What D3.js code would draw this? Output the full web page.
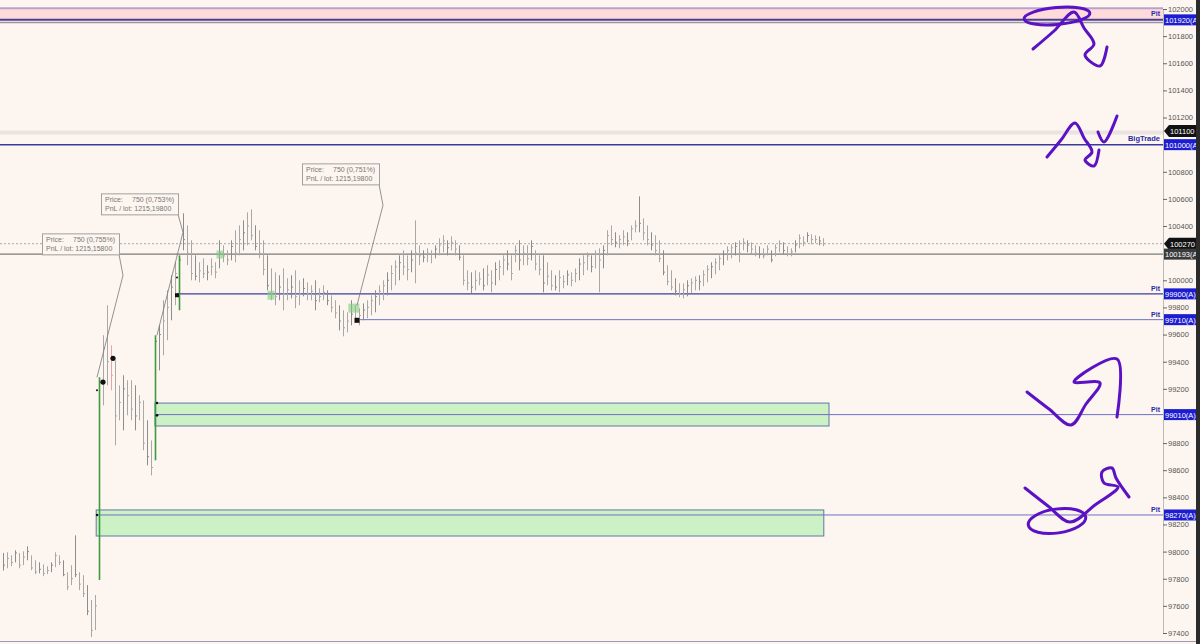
<!DOCTYPE html>
<html>
  <head>
    <title>Price chart</title>
  </head>
  <body>
    <svg id="svg" width="1200" height="644"></svg>

    <script src="https://cdn.jsdelivr.net/npm/d3@7"></script>
    <style>
      body,
      html {
        margin: 0;
        padding: 0;
        background: #fdf5ef;
      }
      #svg {
        display: block;
        font-family: "Liberation Sans", Arial, sans-serif;
      }
    </style>
    <script>
      // bar data (one bar per step)
      const barHigh = [
        97990, 97995, 97973, 98010, 97990, 98002, 98039, 97973, 97936, 97921,
        97906, 97892, 97921, 97995, 97973, 97936, 97848, 97900, 98120, 97848,
        97826, 97753, 97643, 97680, 99285, 99595, 99816, 99521, 99410, 99226,
        99300, 99263, 99263, 99226, 99152, 99115, 98968, 98820, 99595, 99668,
        99853, 99926, 100037, 100133, 100184, 100494, 100405, 100295, 100184, 100133,
        100162, 100111, 100162, 100133, 100295, 100258, 100221, 100295, 100369, 100405,
        100442, 100501, 100523, 100405, 100369, 100295, 100184, 100088, 100059, 100037,
        100088, 100015, 100037, 100074, 100000, 100015, 99985, 99963, 100000, 99941,
        99963, 99926, 99889, 99853, 99816, 99779, 99764, 99853, 99816, 99794,
        99830, 99853, 99889, 99926, 99963, 100000, 100059, 100111, 100147, 100184,
        100221, 100184, 100221, 100442, 100258, 100221, 100236, 100221, 100258, 100310,
        100332, 100295, 100324, 100295, 100258, 100184, 100074, 100059, 100074, 100059,
        100088, 100111, 100074, 100133, 100147, 100184, 100221, 100184, 100258, 100295,
        100258, 100258, 100295, 100221, 100184, 100184, 100133, 100074, 100037, 100074,
        100037, 100074, 100059, 100088, 100162, 100184, 100206, 100184, 100221, 100236,
        100258, 100369, 100405, 100354, 100332, 100369, 100354, 100405, 100442, 100619,
        100457, 100405, 100354, 100332, 100295, 100221, 100111, 100074, 100015, 99978,
        99978, 100000, 100015, 100029, 100037, 100074, 100111, 100133, 100162, 100184,
        100221, 100251, 100265, 100280, 100295, 100310, 100295, 100280, 100258, 100251,
        100236, 100258, 100221, 100265, 100295, 100280, 100251, 100236, 100295, 100339,
        100324, 100354, 100339, 100332, 100324, 100310
      ];
      const barLow = [
        97860, 97877, 97892, 97921, 97877, 97900, 97936, 97863, 97834, 97840,
        97819, 97834, 97848, 97885, 97900, 97819, 97716, 97753, 97812, 97716,
        97665, 97532, 97370, 97422, 97790, 99078, 99226, 99189, 98784, 98968,
        98894, 99005, 98968, 98894, 98968, 98747, 98636, 98562, 98673, 99336,
        99447, 99558, 99705, 99816, 99779, 100221, 100111, 100000, 100000, 99985,
        100015, 100000, 100037, 100015, 100088, 100133, 100111, 100147, 100133, 100184,
        100221, 100258, 100295, 100221, 100162, 100037, 99926, 99853, 99816, 99853,
        99779, 99853, 99867, 99794, 99816, 99882, 99853, 99853, 99779, 99838,
        99853, 99816, 99764, 99720, 99631, 99587, 99617, 99668, 99690, 99668,
        99705, 99720, 99742, 99764, 99816, 99853, 99889, 99926, 99963, 100000,
        100037, 100000, 100059, 99978, 100111, 100133, 100133, 100125, 100162, 100184,
        100206, 100184, 100221, 100184, 100147, 99963, 99926, 99904, 99926, 99963,
        99926, 99963, 99912, 99963, 100000, 100037, 100074, 100000, 100133, 100074,
        100111, 100111, 100147, 100074, 100037, 99912, 99963, 99926, 99926, 99912,
        99941, 99963, 99956, 99985, 100000, 100037, 100074, 100059, 100088, 99912,
        100088, 100184, 100258, 100243, 100236, 100258, 100251, 100295, 100354, 100354,
        100295, 100258, 100221, 100184, 100133, 100037, 99963, 99926, 99889, 99875,
        99867, 99882, 99904, 99926, 99926, 99956, 99985, 100015, 100044, 100074,
        100111, 100147, 100162, 100184, 100133, 100221, 100206, 100192, 100177, 100162,
        100162, 100184, 100133, 100177, 100206, 100192, 100177, 100177, 100206, 100236,
        100251, 100280, 100265, 100273, 100258, 100251
      ];
      const barClose = [
        97900, 97950, 97920, 97990, 97900, 97960, 98000, 97880, 97850, 97870,
        97840, 97860, 97900, 97970, 97920, 97830, 97740, 97800, 97830, 97760,
        97690, 97560, 97420, 97600, 99250, 99500, 99400, 99300, 99000, 99100,
        99200, 99150, 99050, 99000, 99100, 98800, 98700, 98620, 99550, 99600,
        99700, 99800, 99950, 100050, 100150, 100300, 100200, 100050, 100030, 100070,
        100050, 100060, 100100, 100060, 100200, 100180, 100150, 100250, 100200, 100300,
        100350, 100400, 100330, 100250, 100200, 100080, 99960, 99900, 99880, 99950,
        99900, 99930, 99950, 99880, 99900, 99940, 99900, 99920, 99850, 99880,
        99910, 99850, 99800, 99760, 99700, 99650, 99700, 99750, 99720, 99740,
        99780, 99800, 99850, 99880, 99920, 99960, 100000, 100050, 100100, 100130,
        100100, 100080, 100150, 100200, 100180, 100170, 100200, 100190, 100230, 100260,
        100290, 100240, 100280, 100230, 100170, 100000, 99980, 99950, 100000, 100010,
        99960, 100040, 99980, 100080, 100100, 100150, 100120, 100050, 100220, 100150,
        100200, 100160, 100250, 100120, 100080, 99980, 100030, 99960, 99950, 100020,
        99990, 100040, 100000, 100050, 100120, 100130, 100180, 100100, 100190, 100150,
        100220, 100330, 100300, 100280, 100300, 100320, 100290, 100380, 100400, 100420,
        100350, 100300, 100260, 100220, 100160, 100060, 99990, 99950, 99920, 99900,
        99930, 99960, 99980, 100000, 99990, 100040, 100080, 100100, 100130, 100160,
        100190, 100220, 100240, 100250, 100200, 100280, 100260, 100230, 100200, 100190,
        100180, 100230, 100150, 100240, 100270, 100220, 100190, 100210, 100260, 100310,
        100280, 100330, 100300, 100300, 100290, 100270
      ];
      const signalBars = [24, 38, 44];   // green bars
      const pinkBars = [27];

      // price tags on the right scale
      const tagPrices = [101920, 101100, 101000, 100270, 100193, 99900, 99710, 99010, 98270];
      const tagTexts = ["101920(A)", "101100", "101000(A)", "100270", "100193(A)", "99900(A)", "99710(A)", "99010(A)", "98270(A)"];
      const tagKinds = ["blue", "black", "blue", "black", "grey", "blue", "blue", "blue", "blue"];

      // price axis ticks (the ones hidden under a tag are not shown)
      const tickPrices = [97400, 97600, 97800, 98000, 98200, 98400, 98600, 98800, 99200, 99400,
        99600, 99800, 100000, 100400, 100600, 100800, 101200, 101400, 101600, 101800, 102000];

      // horizontal levels: price, start bar index, name
      const pitPrices = [99900, 99710, 99010, 98270];
      const pitStart = [43.5, 88.5, 38, 23.3];
      const pitNames = ["Pit", "Pit", "Pit", "Pit"];

      // zones (green boxes)
      const zoneTop = [99095, 98307];
      const zoneBottom = [98926, 98115];
      const zoneFrom = [38, 23.3];
      const zoneTo = [206.5, 205.2];

      // trade tooltips
      const noteLine1 = ["750 (0,755%)", "750 (0,753%)", "750 (0,751%)"];
      const noteLine2 = ["1215,15800", "1215,19800", "1215,19800"];
      const noteBoxAt = [[9.75, 100346], [24.5, 100641], [74.75, 100862]];
      const noteKink = [[30, 100037], [45, 100354], [95, 100553]];
      const noteTarget = [[23.5, 99285], [38.5, 99595], [88.5, 99816]];

      // execution dots and squares
      const dotAt = [[25, 99250, 2.6], [27.5, 99425, 2.6], [23.5, 99190, 1], [38.5, 99095, 1.2], [38.5, 99005, 1.4], [23.5, 98270, 1.2], [43.5, 100020, 1]];
      const squareAt = [[43.5, 99890, 4], [88.5, 99705, 5]];
      const fillMarks = [[54.25, 100190, 7, 8], [67, 99890, 7, 9], [87.7, 99795, 11, 9]];

      // freehand ink drawn over the chart (screen pixels)
      const ink = [
        [[1033, 49], [1054, 31], [1074, 12], [1084, 28], [1094, 44], [1085, 55], [1100, 66], [1107, 47]],
        [[1047, 157], [1061, 140], [1075, 123], [1084, 138], [1092, 152], [1085, 160], [1094, 166], [1099, 150]],
        [[1098, 132], [1104, 142], [1117, 116]],
        [[1027, 392], [1049, 409], [1071, 425], [1086, 404], [1100, 383], [1074, 382], [1117, 359], [1117, 417]],
        [[1025, 488], [1048, 506], [1070, 522], [1095, 505], [1118, 487], [1104, 483], [1102, 472], [1112, 468], [1116, 478], [1129, 497]]
      ];
      const inkRings = [[1057, 16, 33, 8.5, -5], [1057, 521, 29, 12, -8]];

      const width = 1200;
      const height = 644;
      const axisX = 1163;

      const x = d3.scaleLinear().domain([0, 205]).range([3, 823]);
      const y = d3.scaleLinear().domain([97400, 102000]).range([633, 9]);

      const svg = d3.select('#svg');

      svg.append('rect')
        .attr('width', width).attr('height', height)
        .attr('fill', '#fdf5ef');

      // top band
      svg.append('rect')
        .attr('x', 0).attr('width', axisX)
        .attr('y', y(102000)).attr('height', y(101920) - y(102000))
        .attr('fill', '#fedada');
      svg.append('line')
        .attr('x1', 0).attr('x2', axisX)
        .attr('y1', y(102005)).attr('y2', y(102005))
        .attr('stroke', '#b6a2cc').attr('stroke-width', 2);
      svg.append('line')
        .attr('x1', 0).attr('x2', axisX)
        .attr('y1', y(101920)).attr('y2', y(101920))
        .attr('stroke', '#4c3c8c').attr('stroke-width', 2);
      svg.append('line')
        .attr('x1', 0).attr('x2', axisX)
        .attr('y1', y(101900)).attr('y2', y(101900))
        .attr('stroke', '#9a92aa').attr('stroke-width', 1.5);

      // faint band at current price
      svg.append('line')
        .attr('x1', 0).attr('x2', axisX)
        .attr('y1', y(101090)).attr('y2', y(101090))
        .attr('stroke', '#ebe3df').attr('stroke-width', 4);

      // BigTrade level
      svg.append('line')
        .attr('x1', 0).attr('x2', axisX)
        .attr('y1', y(101000)).attr('y2', y(101000))
        .attr('stroke', '#3a3a9e').attr('stroke-width', 1.5);
      svg.append('text')
        .attr('x', axisX - 3).attr('y', y(101000) - 4)
        .attr('text-anchor', 'end').attr('font-size', 7.5).attr('font-weight', 'bold')
        .attr('fill', '#2a2aa8').text('BigTrade');

      // dotted and solid grey levels
      svg.append('line')
        .attr('x1', 0).attr('x2', axisX)
        .attr('y1', y(100270)).attr('y2', y(100270))
        .attr('stroke', '#aaa').attr('stroke-dasharray', '2,2');
      svg.append('line')
        .attr('x1', 0).attr('x2', axisX)
        .attr('y1', y(100193)).attr('y2', y(100193))
        .attr('stroke', '#7a7a7a').attr('stroke-width', 1.2);

      // zones
      svg.append('g').selectAll('rect')
        .data(zoneTop)
        .join('rect')
        .attr('x', (d, i) => x(zoneFrom[i]))
        .attr('width', (d, i) => x(zoneTo[i]) - x(zoneFrom[i]))
        .attr('y', d => y(d))
        .attr('height', (d, i) => y(zoneBottom[i]) - y(d))
        .attr('fill', '#ccf1c5')
        .attr('stroke', '#5f78a8').attr('stroke-width', 1);

      // pit levels
      const pits = svg.append('g');
      pits.selectAll('line')
        .data(pitPrices)
        .join('line')
        .attr('x1', (d, i) => x(pitStart[i])).attr('x2', axisX)
        .attr('y1', d => y(d)).attr('y2', d => y(d))
        .attr('stroke', (d, i) => i === 0 ? '#3c3ca0' : '#7070c8')
        .attr('stroke-width', (d, i) => i === 0 ? 1.3 : 1);
      pits.selectAll('text')
        .data(pitPrices)
        .join('text')
        .attr('x', axisX - 3).attr('y', d => y(d) - 3)
        .attr('text-anchor', 'end').attr('font-size', 7).attr('font-weight', 'bold')
        .attr('fill', '#2a2aa8').text((d, i) => pitNames[i]);
      svg.append('text')
        .attr('x', axisX - 3).attr('y', y(101920) - 4)
        .attr('text-anchor', 'end').attr('font-size', 7).attr('font-weight', 'bold')
        .attr('fill', '#2a2aa8').text('Pit');

      // OHLC bars
      const bars = svg.append('g');
      const idx = d3.range(barHigh.length);
      const barColor = i => signalBars.includes(i) ? '#3f9a3f' : pinkBars.includes(i) ? '#e6a4a4' : (i % 3 === 0 ? '#8c8c8c' : '#a8a8a8');
      bars.selectAll('line.hl')
        .data(idx)
        .join('line')
        .attr('class', 'hl')
        .attr('x1', i => Math.round(x(i)) + 0.5).attr('x2', i => Math.round(x(i)) + 0.5)
        .attr('y1', i => y(barHigh[i])).attr('y2', i => y(barLow[i]))
        .attr('stroke', barColor)
        .attr('stroke-width', i => signalBars.includes(i) ? 1.6 : 1);
      bars.selectAll('line.cl')
        .data(idx)
        .join('line')
        .attr('class', 'cl')
        .attr('x1', i => Math.round(x(i)) + 0.5).attr('x2', i => Math.round(x(i)) + 2)
        .attr('y1', i => y(barClose[i])).attr('y2', i => y(barClose[i]))
        .attr('stroke', barColor);

      // green fills over bars
      svg.append('g').selectAll('rect')
        .data(fillMarks)
        .join('rect')
        .attr('x', d => x(d[0]) - d[2] / 2).attr('y', d => y(d[1]) - d[3] / 2)
        .attr('width', d => d[2]).attr('height', d => d[3])
        .attr('fill', '#7fcf7f').attr('opacity', 0.6);

      // tooltips
      const notes = svg.append('g');
      noteLine1.forEach((t, i) => {
        const bx = x(noteBoxAt[i][0]);
        const by = y(noteBoxAt[i][1]);
        const bw = 77, bh = 21;
        notes.append('path')
          .attr('d', d3.line()([[bx + bw, by + bh], [x(noteKink[i][0]), y(noteKink[i][1])], [x(noteTarget[i][0]), y(noteTarget[i][1])]]))
          .attr('fill', 'none').attr('stroke', '#777').attr('stroke-width', 0.8);
        notes.append('rect')
          .attr('x', bx + 0.5).attr('y', by + 0.5).attr('width', bw).attr('height', bh)
          .attr('fill', '#fdf5ef').attr('stroke', '#a0a0a0');
        notes.append('text').attr('x', bx + 4).attr('y', by + 9).attr('font-size', 7).attr('fill', '#777').text('Price:');
        notes.append('text').attr('x', bx + 31).attr('y', by + 9).attr('font-size', 7).attr('fill', '#777').text(t);
        notes.append('text').attr('x', bx + 4).attr('y', by + 18).attr('font-size', 7).attr('fill', '#777').text('PnL / lot: ' + noteLine2[i]);
      });

      // dots and squares
      svg.append('g').selectAll('circle')
        .data(dotAt)
        .join('circle')
        .attr('cx', d => x(d[0])).attr('cy', d => y(d[1])).attr('r', d => d[2])
        .attr('fill', '#111');
      svg.append('g').selectAll('rect')
        .data(squareAt)
        .join('rect')
        .attr('x', d => x(d[0]) - d[2] / 2).attr('y', d => y(d[1]) - d[2] / 2)
        .attr('width', d => d[2]).attr('height', d => d[2])
        .attr('fill', '#111');

      // right price axis
      const axisG = svg.append('g')
        .attr('transform', `translate(${axisX},0)`)
        .call(d3.axisRight(y).tickValues(tickPrices).tickSize(4).tickPadding(1).tickFormat(d3.format('d')));
      axisG.select('.domain').attr('stroke', '#bbb');
      axisG.selectAll('.tick line').attr('stroke', '#666');
      axisG.selectAll('.tick text')
        .attr('font-size', 7.5).attr('fill', '#555')
        .attr('font-family', '"Liberation Sans", Arial, sans-serif');

      // price tags
      svg.append('clipPath').attr('id', 'tagclip')
        .append('rect').attr('x', axisX).attr('y', 0).attr('width', 33).attr('height', height);
      const tags = svg.append('g').attr('clip-path', 'url(#tagclip)');
      tagPrices.forEach((p, i) => {
        const ty = y(p);
        const fill = tagKinds[i] === 'blue' ? '#1c1cd0' : tagKinds[i] === 'black' ? '#111' : '#3a3a3a';
        if (tagKinds[i] === 'black') {
          tags.append('path')
            .attr('d', `M${axisX + 1},${ty} L${axisX + 6},${ty - 6} H${axisX + 34} V${ty + 6} H${axisX + 6} Z`)
            .attr('fill', fill);
        } else {
          tags.append('rect')
            .attr('x', axisX + 1).attr('y', ty - 5.5).attr('width', 33).attr('height', 11)
            .attr('fill', fill);
        }
        tags.append('text')
          .attr('x', axisX + (tagKinds[i] === 'black' ? 7 : 2)).attr('y', ty + 3)
          .attr('font-size', 7.5).attr('fill', '#fff')
          .text(tagTexts[i]);
      });

      // dark right edge
      svg.append('rect')
        .attr('x', 1196).attr('y', 0).attr('width', 4).attr('height', height)
        .attr('fill', '#2b2b2b');
      svg.append('line')
        .attr('x1', 0).attr('x2', 1196).attr('y1', 641.5).attr('y2', 641.5)
        .attr('stroke', '#9a9ab8');

      // freehand ink
      const inkLine = d3.line().curve(d3.curveCatmullRom.alpha(0.5));
      svg.append('g').selectAll('path')
        .data(ink)
        .join('path')
        .attr('d', d => inkLine(d))
        .attr('fill', 'none').attr('stroke', '#5a12c4')
        .attr('stroke-width', 3).attr('stroke-linecap', 'round').attr('stroke-linejoin', 'round');
      svg.append('g').selectAll('ellipse')
        .data(inkRings)
        .join('ellipse')
        .attr('cx', d => d[0]).attr('cy', d => d[1]).attr('rx', d => d[2]).attr('ry', d => d[3])
        .attr('transform', d => `rotate(${d[4]},${d[0]},${d[1]})`)
        .attr('fill', 'none').attr('stroke', '#5a12c4').attr('stroke-width', 3);
    </script>
  </body>
</html>
